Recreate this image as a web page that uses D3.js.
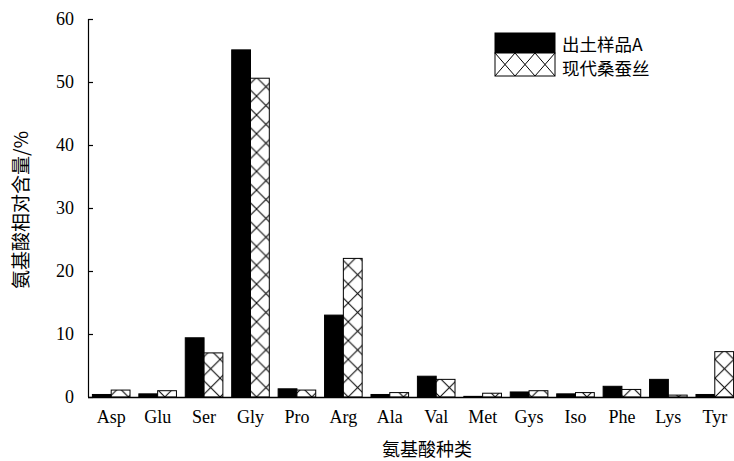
<!DOCTYPE html>
<html>
<head>
<meta charset="utf-8">
<script src="https://cdn.jsdelivr.net/npm/d3@7"></script>
<style>
  body { margin: 0; background: #fff; }
  svg { display: block; }
  .tick text, .cat { font-family: "Liberation Serif", "DejaVu Serif", serif; font-size: 18px; fill: #000; }
  .cjk { font-family: "Noto Sans CJK SC", sans-serif; font-size: 17.5px; fill: #000; }
</style>
</head>
<body>
<div id="chart"></div>
<script>
// amino acid relative content (%)
const ACIDS   = ["Asp", "Glu", "Ser", "Gly", "Pro", "Arg", "Ala", "Val", "Met", "Gys", "Iso", "Phe", "Lys", "Tyr"];
const SAMPLE  = [0.4, 0.5, 9.4, 55.1, 1.3, 13.0, 0.4, 3.3, 0.1, 0.8, 0.5, 1.7, 2.8, 0.4];   // 出土样品A
const MODERN  = [1.1, 1.0, 7.0, 50.6, 1.1, 22.0, 0.7, 2.8, 0.6, 1.0, 0.7, 1.2, 0.3, 7.2];   // 现代桑蚕丝
const Y_TICKS = [0, 10, 20, 30, 40, 50, 60];
const SERIES  = ["出土样品A", "现代桑蚕丝"];

const W = 734, H = 461;
const plotLeft = 88, plotTop = 19, plotBottom = 397, plotRight = 738;

const svg = d3.select("#chart").append("svg").attr("width", W).attr("height", H);
const defs = svg.append("defs");

const x = d3.scaleBand().domain(ACIDS).range([plotLeft, plotRight]).paddingInner(0.19).paddingOuter(0.095);
const x1 = d3.scaleBand().domain([0, 1]).range([0, x.bandwidth()]);
const y = d3.scaleLinear().domain([0, 60]).range([plotBottom, plotTop]);

const rows = ACIDS.map((a, i) => ({ acid: a, vals: [SAMPLE[i], MODERN[i]] }));

// cross-hatch pattern, one per bar so the X's line up with the bar edges
function hatch(id, px, py, w, h) {
  const p = defs.append("pattern").attr("id", id)
      .attr("patternUnits", "userSpaceOnUse")
      .attr("x", px).attr("y", py).attr("width", w).attr("height", h);
  p.append("rect").attr("width", w).attr("height", h).attr("fill", "#fff");
  p.append("line").attr("x1", 0).attr("y1", 0).attr("x2", w).attr("y2", h).attr("stroke", "#000").attr("stroke-width", 1);
  p.append("line").attr("x1", w).attr("y1", 0).attr("x2", 0).attr("y2", h).attr("stroke", "#000").attr("stroke-width", 1);
}

const groups = svg.selectAll(".grp").data(rows).join("g")
    .attr("class", "grp")
    .attr("transform", d => `translate(${x(d.acid)},0)`);

groups.each(function(d, gi) {
  const g = d3.select(this);
  d.vals.forEach((v, k) => {
    const bx = x1(k), bw = x1.bandwidth();
    let fill = "#000";
    if (k === 1) {
      const id = "hatch-" + gi;
      hatch(id, x(d.acid) + bx, plotBottom, bw, bw);
      fill = `url(#${id})`;
    }
    g.append("rect")
        .attr("x", bx).attr("width", bw)
        .attr("y", y(v)).attr("height", plotBottom - y(v))
        .attr("fill", fill).attr("stroke", "#000").attr("stroke-width", 1);
  });
});

// axes
const yAxis = svg.append("g").attr("transform", `translate(${plotLeft},0)`)
    .call(d3.axisLeft(y).tickValues(Y_TICKS).tickSize(-5).tickPadding(14));
yAxis.select(".domain").attr("d", `M0.5,${plotTop}V${plotBottom}`).attr("stroke-width", 1.2);
yAxis.selectAll(".tick line").attr("stroke-width", 1.2);

svg.append("line").attr("x1", plotLeft).attr("x2", W).attr("y1", plotBottom + 0.5).attr("y2", plotBottom + 0.5)
    .attr("stroke", "#000").attr("stroke-width", 1.5);

svg.selectAll(".cat").data(ACIDS).join("text")
    .attr("class", "cat")
    .attr("x", d => x(d) + x.bandwidth() / 2)
    .attr("y", 423)
    .attr("text-anchor", "middle")
    .text(d => d);

// axis titles
svg.append("text").attr("class", "cjk")
    .attr("transform", `translate(28,210) rotate(-90)`)
    .attr("text-anchor", "middle").style("font-size", "19px")
    .text("氨基酸相对含量/%");
svg.append("text").attr("class", "cjk")
    .attr("x", 427).attr("y", 456).attr("text-anchor", "middle").style("font-size", "18px")
    .text("氨基酸种类");

// legend
hatch("hatch-legend", 495, 53, 20, 23);
const legend = svg.append("g");
SERIES.forEach((s, i) => {
  legend.append("rect").attr("x", 495).attr("y", 33 + i * 20).attr("width", 60).attr("height", i ? 23 : 20)
      .attr("fill", i ? "url(#hatch-legend)" : "#000").attr("stroke", "#000").attr("stroke-width", 1);
  legend.append("text").attr("class", "cjk").attr("x", 562).attr("y", 51 + i * 24).text(s);
});
</script>
</body>
</html>
